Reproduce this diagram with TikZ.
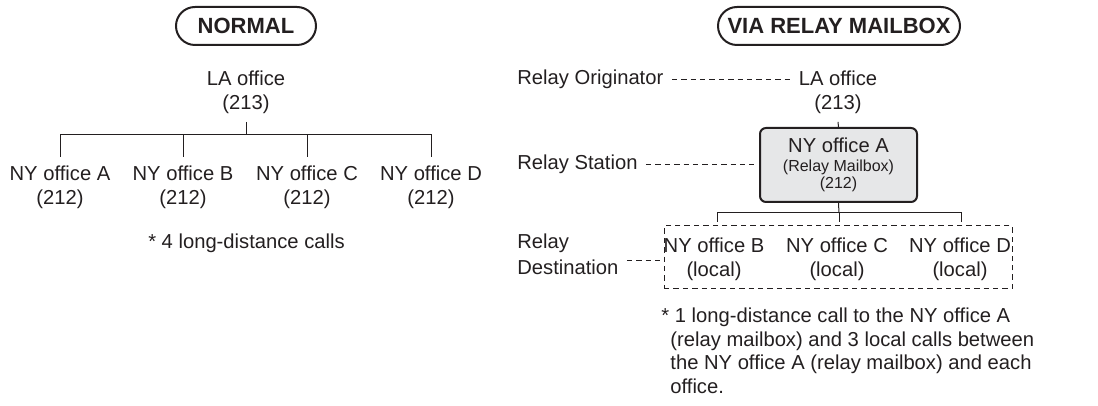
\documentclass[tikz,border=0pt]{standalone}
\usepackage{fontspec}
\setmainfont{Liberation Sans}
\usetikzlibrary{shapes.misc}
\definecolor{relayink}{HTML}{231F20}
\definecolor{relayfill}{HTML}{E6E7E8}

\begin{document}
\begin{tikzpicture}[
  x=0.5pt,
  y=-0.5pt,
  every node/.style={font=\fontsize{10.1}{12}\selectfont, text=relayink},
  heading/.style={rounded rectangle, draw=relayink, line width=1pt,
    minimum height=19pt, inner sep=0pt, font=\fontsize{11}{12}\selectfont\bfseries},
  office/.style={align=center, inner sep=4pt},
  tagline/.style={align=left, inner sep=4pt, anchor=west},
  tree/.style={relayink, line width=0.5pt},
  guide/.style={relayink, line width=0.5pt, dash pattern=on 2.7pt off 2pt},
  mailbox/.style={draw=relayink, fill=relayfill, line width=1pt, rounded corners=3pt,
    minimum width=78.5pt, minimum height=37pt, align=center, inner sep=0pt}
]
  % ---- page frame --------------------------------------------------------
  \useasboundingbox (0,0) rectangle (1098,406);

  % ---- headings ------------------------------------------------------------
  \node[heading, minimum width=70pt] (normal) at (246,26) {NORMAL};
  \node[heading, minimum width=121pt] (via) at (839,26) {VIA RELAY MAILBOX};

  % ---- left: four long-distance calls ------------------------------------
  \node[office] (lanorm) at (246,92) {LA office\\(213)};
  \node[office] (nya) at (60,187) {NY office A\\(212)};
  \node[office] (nyb) at (183,187) {NY office B\\(212)};
  \node[office] (nyc) at (307,187) {NY office C\\(212)};
  \node[office] (nyd) at (431,187) {NY office D\\(212)};

  \coordinate (busnorm) at (246,135);
  \draw[tree] (lanorm.south) -- (busnorm);
  \foreach \n in {nya,nyb,nyc,nyd}
    \draw[tree] (busnorm) -| (\n.north);

  \node[anchor=base] (notenorm) at (246.5,249) {* 4 long-distance calls};

  % ---- right: via the relay mailbox --------------------------------------
  \node[office] (larelay) at (838,92) {LA office\\(213)};
  \node[mailbox] (relaybox) at (838.5,165)
    {NY office A\\[-2.5pt]{\fontsize{8}{9}\selectfont(Relay Mailbox)}\\[-3.5pt]{\fontsize{8}{9}\selectfont(212)}};
  \draw[tree] (larelay.south) -- (relaybox.north);

  \node[draw=relayink, line width=0.5pt, dash pattern=on 2.7pt off 2pt,
    minimum width=174pt, minimum height=31.5pt, inner sep=0pt] (dashbox) at (838,257.5) {};
  \node[office] (nybl) at (714,259) {NY office B\\(local)};
  \node[office] (nycl) at (837,259) {NY office C\\(local)};
  \node[office] (nydl) at (960,259) {NY office D\\(local)};

  \coordinate (busrelay) at (839,213);
  \draw[tree] (relaybox.south) -- (busrelay);
  \draw[tree, shorten >=1.5pt] (busrelay) -| (717,0 |- dashbox.north);
  \draw[tree, shorten >=1.5pt] (busrelay) -- (busrelay |- dashbox.north);
  \draw[tree, shorten >=1.5pt] (busrelay) -| (961,0 |- dashbox.north);

  % ---- role labels on the left of the relay tree -------------------------
  \node[tagline] (originator) at (509,79.7) {Relay Originator};
  \node[tagline] (station) at (509,164.5) {Relay Station};
  \node[tagline, font=\fontsize{10.1}{13}\selectfont] (destination) at (509,254) {Relay\\Destination};

  \draw[guide] (originator.east) -- (originator.east -| larelay.west);
  \draw[guide, shorten >=2.5pt] (station.east) -- (station.east -| relaybox.west);
  \draw[guide] ([yshift=-3.5pt]destination.east) -- ([yshift=-3.5pt]destination.east -| dashbox.west);

  \node[anchor=north west, align=left, inner sep=0pt, font=\fontsize{10.1}{11.85}\selectfont] (noterelay) at (661,307.5)
    {* 1 long-distance call to the NY office A\\
     \hspace*{4.5pt}(relay mailbox) and 3 local calls between\\
     \hspace*{4.5pt}the NY office A (relay mailbox) and each\\
     \hspace*{4.5pt}office.};

\end{tikzpicture}
\end{document}
